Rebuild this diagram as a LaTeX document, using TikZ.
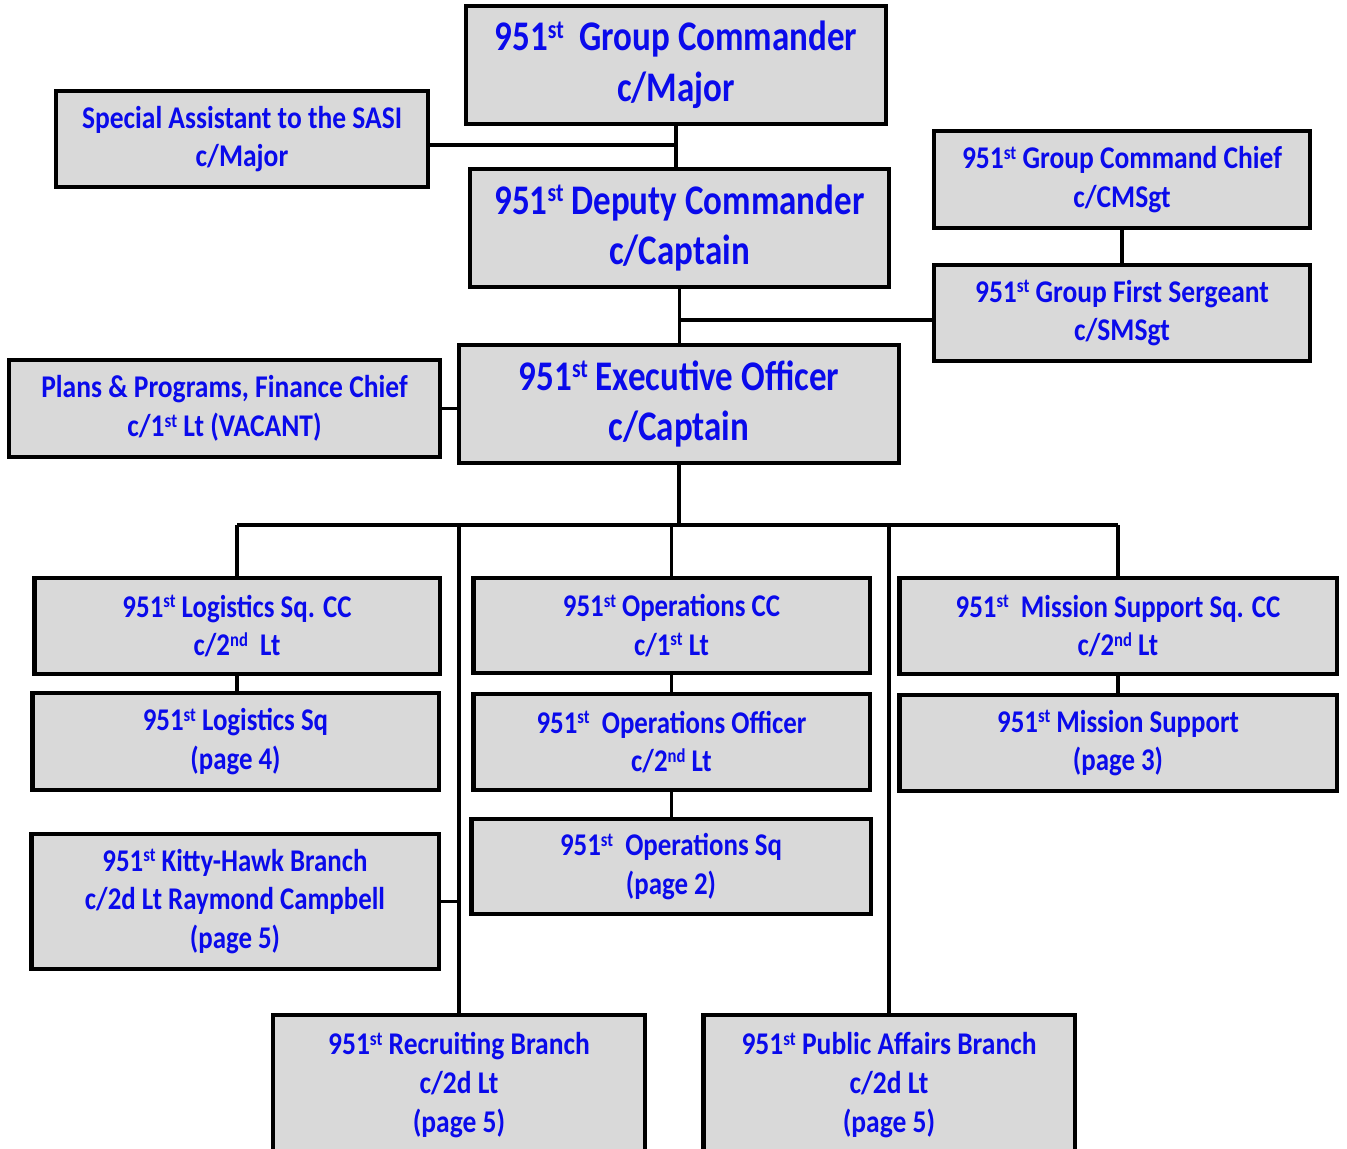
\documentclass[tikz,border=0pt]{standalone}
\usepackage{fontspec}
\setmainfont{Carlito}[FakeStretch=0.87]
\newfontfamily\narrowfont{Carlito}[FakeStretch=0.85]
\newfontfamily\headfont{Carlito}[FakeStretch=0.83]
\usetikzlibrary{calc}
\definecolor{rankblue}{RGB}{10,10,235}
\definecolor{boxgrey}{RGB}{217,217,217}
\tikzset{
  post/.style={draw=black, line width=2.2pt, fill=boxgrey, text=rankblue, align=center, inner sep=0pt},
  topbox/.style={post, font=\headfont\fontsize{24}{29}\selectfont\bfseries},
  sidebox/.style={post, font=\fontsize{18}{22}\selectfont\bfseries},
  unitbox/.style={post, line width=2.8pt, font=\narrowfont\fontsize{18}{22}\selectfont\bfseries},
  link/.style={draw=black, line width=2pt},
}
\newcommand{\ordst}{\raisebox{0.3em}{\scalebox{0.62}{st}}}
\newcommand{\ordnd}{\raisebox{0.3em}{\scalebox{0.62}{nd}}}

\begin{document}
\begin{tikzpicture}[x=0.02cm, y=-0.02cm]
\useasboundingbox (0,0) rectangle (1347,1149);

% command staff
\node[topbox, minimum width=8.4cm, minimum height=2.36cm] (gc) at (676,65) {951\ordst\ \ Group Commander\\c/Major};
\node[sidebox, minimum width=7.44cm, minimum height=1.92cm] (sa) at (242,139) {Special Assistant to the SASI\\c/Major};
\node[topbox, minimum width=8.38cm, minimum height=2.36cm] (dc) at (679.5,228) {951\ordst\ Deputy Commander\\c/Captain};
\node[sidebox, minimum width=7.52cm, minimum height=1.94cm] (cc) at (1122,179.5) {951\ordst\ Group Command Chief\\c/CMSgt};
\node[sidebox, minimum width=7.52cm, minimum height=1.92cm] (fs) at (1122,313) {951\ordst\ Group First Sergeant\\c/SMSgt};
\node[sidebox, minimum width=8.62cm, minimum height=1.94cm] (pp) at (224.5,408.5) {Plans \& Programs, Finance Chief\\c/1\ordst\ Lt (VACANT)};
\node[topbox, minimum width=8.8cm, minimum height=2.36cm] (eo) at (679,404) {951\ordst\ Executive Officer\\c/Captain};

% squadrons
\node[unitbox, minimum width=8.12cm, minimum height=1.92cm] (lcc) at (237,626) {951\ordst\ Logistics Sq. CC\\c/2\ordnd\ \ Lt};
\node[unitbox, minimum width=7.94cm, minimum height=1.9cm] (occ) at (671.5,625.5) {951\ordst\ Operations CC\\c/1\ordst\ Lt};
\node[unitbox, minimum width=8.76cm, minimum height=1.92cm] (mscc) at (1118,626) {951\ordst\ \ Mission Support Sq. CC\\c/2\ordnd\ Lt};
\node[unitbox, minimum width=8.14cm, minimum height=1.94cm] (ls) at (235.5,741.5) {951\ordst\ Logistics Sq\\(page 4)};
\node[unitbox, minimum width=7.94cm, minimum height=1.92cm] (oo) at (671.5,742) {951\ordst\ \ Operations Officer\\c/2\ordnd\ Lt};
\node[unitbox, minimum width=8.76cm, minimum height=1.92cm] (ms) at (1118,743) {951\ordst\ Mission Support\\(page 3)};
\node[unitbox, minimum width=8.0cm, minimum height=1.9cm] (os) at (671,866.5) {951\ordst\ \ Operations Sq\\(page 2)};
\node[unitbox, minimum width=8.16cm, minimum height=2.7cm] (kh) at (235,901.5) {951\ordst\ Kitty-Hawk Branch\\c/2d Lt Raymond Campbell\\(page 5)};
\node[sidebox, line width=2.8pt, minimum width=7.44cm, minimum height=2.8cm] (rb) at (459,1085) {951\ordst\ Recruiting Branch\\c/2d Lt\\(page 5)};
\node[sidebox, line width=2.8pt, minimum width=7.44cm, minimum height=2.8cm] (pa) at (889,1085) {951\ordst\ Public Affairs Branch\\c/2d Lt\\(page 5)};

\coordinate (bus) at (675,525);

% links
\draw[link] (gc.south) -- (gc.south |- dc.north);
\draw[link] ([yshift=-0.12cm]sa.east) -- ([yshift=-0.12cm]sa.east -| gc.south);
\draw[link] (dc.south) -- (dc.south |- eo.north);
\draw[link] ([yshift=-0.14cm]fs.west) -- ([yshift=-0.14cm]fs.west -| dc.south);
\draw[link] (cc.south) -- (cc.south |- fs.north);
\draw[link] (pp.east) -- (pp.east -| eo.west);
\draw[link] (eo.south) -- (eo.south |- bus);
\draw[link] (lcc.north |- bus) -- (mscc.north |- bus);
\draw[link] (lcc.north) -- (lcc.north |- bus);
\draw[link] (occ.north) -- (occ.north |- bus);
\draw[link] (mscc.north) -- (mscc.north |- bus);
\draw[link] (rb.north) -- (rb.north |- bus);
\draw[link] (pa.north) -- (pa.north |- bus);
\draw[link] (kh.east) -- (kh.east -| rb.north);
\draw[link] (lcc.south) -- (lcc.south |- ls.north);
\draw[link] (occ.south) -- (occ.south |- oo.north);
\draw[link] (oo.south) -- (oo.south |- os.north);
\draw[link] (mscc.south) -- (mscc.south |- ms.north);
\end{tikzpicture}
\end{document}
